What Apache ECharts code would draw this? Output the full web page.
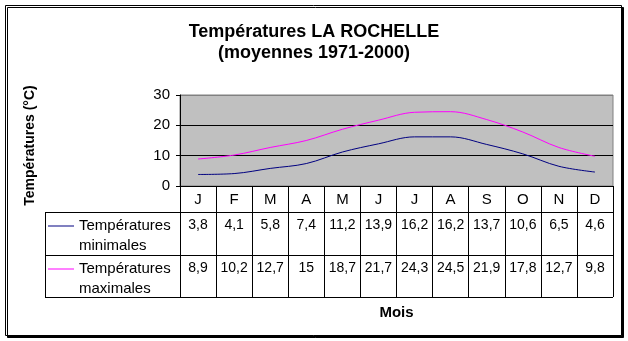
<!DOCTYPE html>
<html><head><meta charset="utf-8">
<script src="https://cdn.jsdelivr.net/npm/echarts@6/dist/echarts.min.js"></script>
<style>html,body{margin:0;padding:0;background:#fff}#c{width:628px;height:341px}</style>
</head><body><div id="c"></div>
<script>
const months = ['J','F','M','A','M','J','J','A','S','O','N','D'];
const tMin = [3.8,4.1,5.8,7.4,11.2,13.9,16.2,16.2,13.7,10.6,6.5,4.6];
const tMax = [8.9,10.2,12.7,15,18.7,21.7,24.3,24.5,21.9,17.8,12.7,9.8];
const yTicks = [0,10,20,30];
const nameMin = 'Températures minimales';
const nameMax = 'Températures maximales';

const F = 'Liberation Sans, Arial, sans-serif';
const GL = 180, GT = 95, GR = 613, GB = 186;
const ROW1 = 212, ROW2 = 255, ROW3 = 297, TL = 45;
const fmt = v => String(v).replace('.', ',');
const idx = months.map((m,i)=>String(i));

const legendBase = {orient:'vertical', left:48, padding:0, itemWidth:26, itemHeight:1, itemGap:0, icon:'rect',
  formatter:n=>'\n'+n.replace(' ','\n'),
  textStyle:{fontFamily:F, fontSize:15, color:'#000', lineHeight:20}};

const chart = echarts.init(document.getElementById('c'), null, {renderer:'canvas'});
chart.setOption({
  animation:false,
  backgroundColor:'#fff',
  title:{
    text:'Températures LA ROCHELLE\n(moyennes 1971-2000)',
    left:'center', top:17,
    textStyle:{fontFamily:F, fontSize:18, fontWeight:'bold', color:'#000', lineHeight:21}
  },
  grid:{left:GL, top:GT, right:628-GR, bottom:341-GB, show:true,
        backgroundColor:'#c0c0c0', borderColor:'#808080', borderWidth:1},
  legend:[
    Object.assign({}, legendBase, {data:[nameMin], top:226-30}),
    Object.assign({}, legendBase, {data:[nameMax], top:269-30})
  ],
  xAxis:[
    {type:'category', data:months, boundaryGap:true,
     axisLine:{lineStyle:{color:'#000', width:1}},
     axisTick:{show:true, interval:0, length:ROW3-GB, lineStyle:{color:'#000'}},
     axisLabel:{interval:0, margin:6, fontFamily:F, fontSize:15, color:'#000'},
     name:'Mois', nameLocation:'middle', nameGap:119,
     nameTextStyle:{fontFamily:F, fontSize:15, fontWeight:'bold', color:'#000'}},
    {type:'category', data:idx, position:'bottom', offset:ROW1-GB+6, boundaryGap:true,
     axisLine:{show:false}, axisTick:{show:false},
     axisLabel:{interval:0, margin:0, fontFamily:F, fontSize:14, color:'#000', formatter:(v,i)=>fmt(tMin[i])}},
    {type:'category', data:idx, position:'bottom', offset:ROW2-GB+6, boundaryGap:true,
     axisLine:{show:false}, axisTick:{show:false},
     axisLabel:{interval:0, margin:0, fontFamily:F, fontSize:14, color:'#000', formatter:(v,i)=>fmt(tMax[i])}}
  ],
  yAxis:{type:'value', min:yTicks[0], max:yTicks[yTicks.length-1], interval:10,
    axisLine:{show:true, lineStyle:{color:'#000'}},
    axisTick:{show:true, length:4, lineStyle:{color:'#000'}},
    axisLabel:{margin:10, fontFamily:F, fontSize:15, color:'#000'},
    splitLine:{show:true, lineStyle:{color:['#000','#000','#000','#808080'], width:1}},
    name:'Températures (°C)', nameLocation:'middle', nameGap:143, nameRotate:90,
    nameTextStyle:{fontFamily:F, fontSize:14, fontWeight:'bold', color:'#000', padding:[0,10,0,0]}
  },
  series:[
    {name:nameMin, type:'line', data:tMin, smooth:0.35, symbol:'none',
     lineStyle:{color:'#000080', width:1}, itemStyle:{color:'#000080'}},
    {name:nameMax, type:'line', data:tMax, smooth:0.35, symbol:'none',
     lineStyle:{color:'#ff00ff', width:1}, itemStyle:{color:'#ff00ff'}}
  ],
  graphic:[
    {type:'rect', z:-10, shape:{x:5.5,y:5.5,width:616,height:330},
     style:{fill:'#fff', stroke:'#000', lineWidth:1, shadowColor:'#000', shadowOffsetX:2, shadowOffsetY:2, shadowBlur:0}},
    {type:'line', shape:{x1:TL, y1:ROW1+0.5, x2:GR, y2:ROW1+0.5}, style:{stroke:'#000', lineWidth:1}},
    {type:'line', shape:{x1:TL, y1:ROW2+0.5, x2:GR, y2:ROW2+0.5}, style:{stroke:'#000', lineWidth:1}},
    {type:'line', shape:{x1:TL, y1:ROW3+0.5, x2:GR, y2:ROW3+0.5}, style:{stroke:'#000', lineWidth:1}},
    {type:'line', shape:{x1:TL+0.5, y1:ROW1, x2:TL+0.5, y2:ROW3+1}, style:{stroke:'#000', lineWidth:1}}
  ]
});
</script></body></html>
